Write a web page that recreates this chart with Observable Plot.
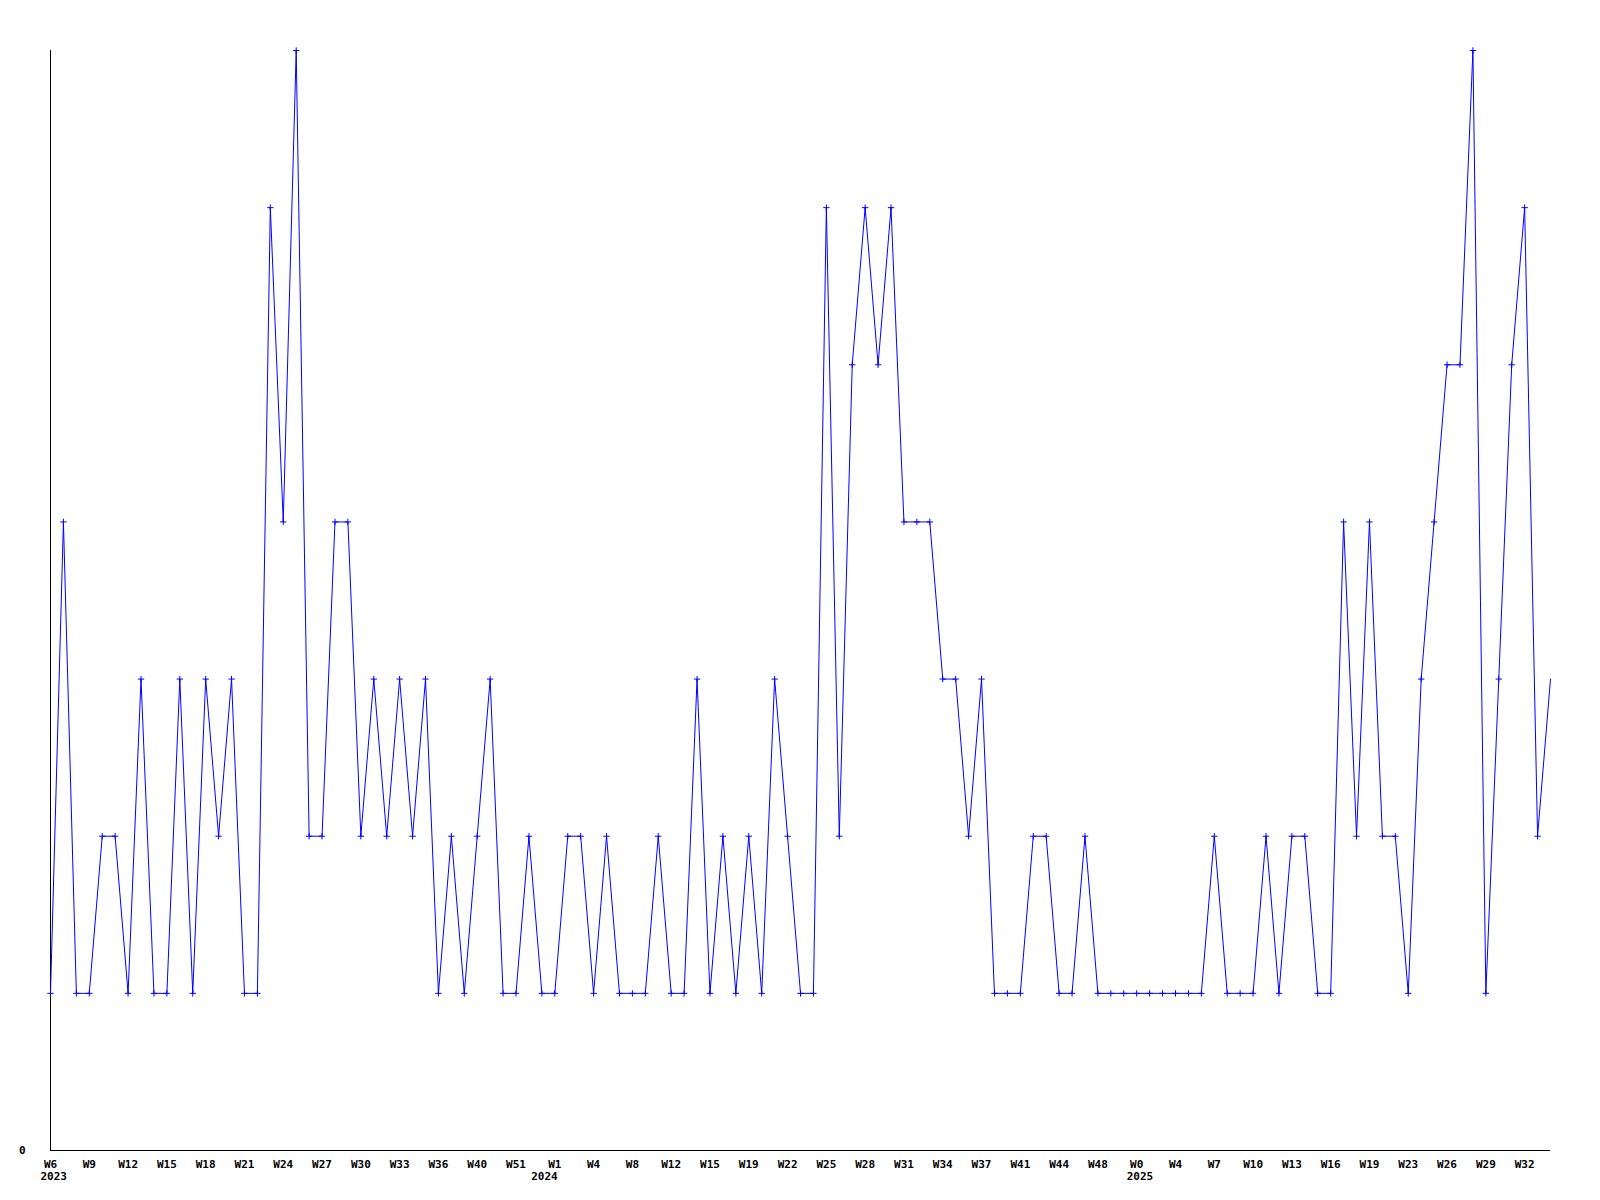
<!DOCTYPE html>
<html>
<head>
<meta charset="utf-8">
<script src="https://cdn.jsdelivr.net/npm/d3@7"></script>
<script src="https://cdn.jsdelivr.net/npm/@observablehq/plot@0.6"></script>
<style>
  html, body { margin: 0; padding: 0; background: #fff; }
</style>
</head>
<body>
<div id="chart"></div>
<script>
// Sample values, one per data point (in order)
const values = [
  1,4,1,1,2,2,1,3,1,1,
  3,1,3,2,3,1,1,6,4,7,
  2,2,4,4,2,3,2,3,2,3,
  1,2,1,2,3,1,1,2,1,1,
  2,2,1,2,1,1,1,2,1,1,
  3,1,2,1,2,1,3,2,1,1,
  6,2,5,6,5,6,4,4,4,3,
  3,2,3,1,1,1,2,2,1,1,
  2,1,1,1,1,1,1,1,1,1,
  2,1,1,1,2,1,2,2,1,1,
  4,2,4,2,2,1,3,4,5,5,
  7,1,3,5,6,2,3
];

// Week tick labels, one every 3rd point
const weekLabels = [
  "W6","W9","W12","W15","W18","W21","W24","W27","W30","W33","W36","W40","W51",
  "W1","W4","W8","W12","W15","W19","W22","W25","W28","W31","W34","W37","W41","W44","W48",
  "W0","W4","W7","W10","W13","W16","W19","W23","W26","W29","W32"
];
const labelStep = 3;

// Year labels and the point position they sit under
const yearNames = ["2023", "2024", "2025"];
const yearPositions = [0.25, 38.2, 84.25];

const data = values.map((v, i) => ({i, v}));
const tickIdx = weekLabels.map((_, k) => k * labelStep);
const years = yearNames.map((y, k) => ({i: yearPositions[k], year: y}));

const chart = Plot.plot({
  width: 1600,
  height: 1200,
  marginLeft: 50,
  marginRight: 50,
  marginTop: 50,
  marginBottom: 50,
  style: {
    fontFamily: "'DejaVu Sans Mono', monospace",
    fontSize: "11px",
    fontWeight: "bold",
    background: "#ffffff",
    color: "#000000"
  },
  x: {domain: [0, values.length - 1], axis: null},
  y: {domain: [0, 7], axis: null},
  marks: [
    Plot.axisX({
      ticks: tickIdx,
      tickFormat: d => weekLabels[d / labelStep],
      tickSize: 0,
      tickPadding: 10,
      label: null,
      fill: "#000"
    }),
    Plot.axisY({
      ticks: [0],
      tickFormat: d => String(d),
      tickSize: 0,
      tickPadding: 25,
      label: null,
      fill: "#000"
    }),
    Plot.ruleX([0], {stroke: "#000", strokeWidth: 1}),
    Plot.ruleY([0], {stroke: "#000", strokeWidth: 1}),
    Plot.line(data, {x: "i", y: "v", stroke: "#0000ff", strokeWidth: 1}),
    Plot.dot(data.slice(0, -1), {x: "i", y: "v", symbol: "plus", r: 2.2, stroke: "#0000ff", strokeWidth: 1, fill: "none"}),
    Plot.text(years, {
      x: "i",
      text: "year",
      frameAnchor: "bottom",
      dy: 29,
      fill: "#000",
      fontWeight: "bold"
    })
  ]
});

document.getElementById("chart").appendChild(chart);
</script>
</body>
</html>
